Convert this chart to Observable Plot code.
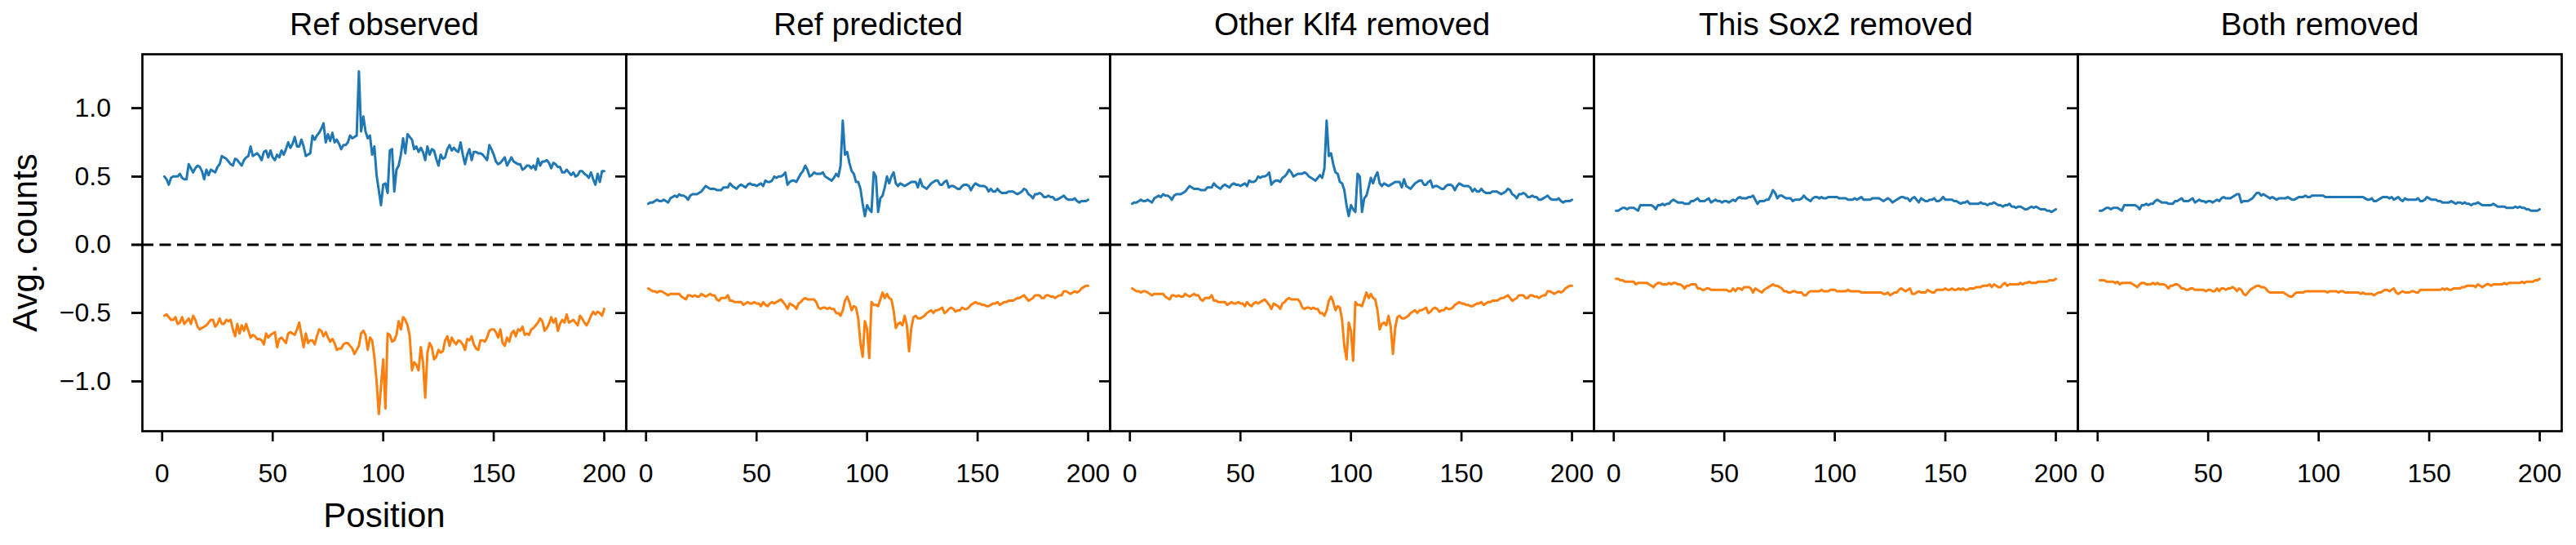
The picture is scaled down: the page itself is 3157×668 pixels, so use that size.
<!DOCTYPE html>
<html>
<head>
<meta charset="utf-8">
<script src="https://cdn.jsdelivr.net/npm/d3@7"></script>
<script src="https://cdn.jsdelivr.net/npm/@observablehq/plot@0.6"></script>
<style>
  html, body { margin: 0; padding: 0; background: #fff; overflow: hidden; }
  #chart svg { display: block; }
</style>
</head>
<body>
<div id="chart"></div>
<script>
const panels = ["Ref observed", "Ref predicted", "Other Klf4 removed", "This Sox2 removed", "Both removed"];
const strands = ["pos", "neg"];
const positions = d3.range(1, 201);
const xTicks = [0, 50, 100, 150, 200];
const yTicks = [-1.0, -0.5, 0.0, 0.5, 1.0];

const obsPos = [0.50,0.48,0.44,0.49,0.50,0.50,0.50,0.52,0.49,0.48,
 0.48,0.59,0.56,0.53,0.56,0.58,0.57,0.54,0.48,0.55,
 0.51,0.55,0.54,0.53,0.57,0.59,0.65,0.64,0.63,0.61,
 0.59,0.58,0.63,0.62,0.60,0.58,0.62,0.64,0.65,0.72,
 0.65,0.66,0.67,0.65,0.62,0.68,0.69,0.64,0.69,0.64,
 0.62,0.66,0.64,0.69,0.66,0.70,0.75,0.71,0.74,0.79,
 0.72,0.72,0.77,0.72,0.65,0.66,0.67,0.80,0.77,0.80,
 0.82,0.85,0.89,0.75,0.81,0.76,0.82,0.75,0.77,0.74,
 0.70,0.73,0.73,0.75,0.80,0.78,0.79,0.80,1.27,0.83,
 0.94,0.83,0.78,0.80,0.66,0.72,0.51,0.40,0.29,0.44,
 0.45,0.38,0.69,0.70,0.39,0.55,0.58,0.66,0.78,0.67,
 0.81,0.79,0.77,0.70,0.72,0.68,0.71,0.68,0.62,0.72,
 0.66,0.70,0.69,0.63,0.58,0.66,0.63,0.64,0.70,0.73,
 0.69,0.71,0.69,0.68,0.75,0.66,0.59,0.66,0.70,0.62,
 0.68,0.68,0.67,0.67,0.66,0.64,0.62,0.73,0.70,0.66,
 0.61,0.59,0.60,0.62,0.64,0.58,0.61,0.64,0.61,0.60,
 0.59,0.59,0.55,0.56,0.58,0.58,0.56,0.58,0.55,0.63,
 0.58,0.61,0.61,0.62,0.60,0.56,0.60,0.59,0.57,0.57,
 0.53,0.53,0.55,0.53,0.51,0.53,0.50,0.51,0.54,0.54,
 0.52,0.51,0.49,0.53,0.48,0.44,0.52,0.46,0.54,0.54];

const obsNeg = [-0.52,-0.51,-0.53,-0.55,-0.55,-0.53,-0.58,-0.57,-0.53,-0.58,
 -0.56,-0.54,-0.58,-0.52,-0.55,-0.60,-0.62,-0.61,-0.60,-0.59,
 -0.57,-0.55,-0.55,-0.60,-0.58,-0.54,-0.58,-0.58,-0.55,-0.56,
 -0.55,-0.62,-0.67,-0.58,-0.65,-0.59,-0.63,-0.58,-0.63,-0.68,
 -0.66,-0.67,-0.69,-0.69,-0.70,-0.73,-0.65,-0.68,-0.66,-0.65,
 -0.64,-0.75,-0.69,-0.68,-0.70,-0.72,-0.65,-0.64,-0.65,-0.66,
 -0.62,-0.57,-0.66,-0.75,-0.65,-0.72,-0.70,-0.70,-0.73,-0.67,
 -0.62,-0.63,-0.67,-0.64,-0.68,-0.71,-0.69,-0.72,-0.77,-0.76,
 -0.76,-0.73,-0.72,-0.72,-0.74,-0.76,-0.80,-0.77,-0.74,-0.65,
 -0.63,-0.66,-0.77,-0.68,-0.70,-0.82,-1.00,-1.24,-1.04,-0.84,
 -1.20,-0.65,-0.66,-0.71,-0.70,-0.66,-0.56,-0.62,-0.53,-0.55,
 -0.59,-0.67,-0.92,-0.86,-0.88,-0.92,-0.75,-0.86,-1.12,-0.79,
 -0.72,-0.75,-0.84,-0.82,-0.77,-0.79,-0.78,-0.70,-0.67,-0.74,
 -0.68,-0.71,-0.73,-0.70,-0.71,-0.73,-0.77,-0.69,-0.70,-0.67,
 -0.73,-0.76,-0.77,-0.70,-0.70,-0.71,-0.68,-0.63,-0.62,-0.62,
 -0.64,-0.68,-0.62,-0.72,-0.74,-0.68,-0.71,-0.65,-0.63,-0.67,
 -0.62,-0.63,-0.60,-0.66,-0.65,-0.66,-0.62,-0.61,-0.59,-0.57,
 -0.54,-0.56,-0.63,-0.61,-0.58,-0.53,-0.57,-0.54,-0.63,-0.58,
 -0.55,-0.57,-0.51,-0.57,-0.56,-0.55,-0.57,-0.59,-0.52,-0.54,
 -0.57,-0.59,-0.56,-0.52,-0.49,-0.51,-0.49,-0.50,-0.52,-0.47];

const predPos = [0.30,0.31,0.31,0.32,0.33,0.32,0.32,0.33,0.32,0.31,
 0.34,0.35,0.36,0.35,0.37,0.36,0.36,0.35,0.33,0.36,
 0.37,0.37,0.37,0.38,0.39,0.41,0.43,0.42,0.41,0.41,
 0.41,0.40,0.40,0.40,0.42,0.42,0.42,0.45,0.43,0.42,
 0.41,0.43,0.44,0.43,0.42,0.44,0.45,0.44,0.44,0.43,
 0.44,0.45,0.43,0.47,0.46,0.46,0.47,0.50,0.49,0.50,
 0.50,0.51,0.53,0.44,0.46,0.47,0.47,0.46,0.49,0.52,
 0.54,0.58,0.55,0.50,0.51,0.53,0.52,0.52,0.52,0.53,
 0.50,0.49,0.48,0.47,0.49,0.52,0.50,0.58,0.91,0.66,
 0.68,0.60,0.54,0.52,0.46,0.46,0.41,0.30,0.21,0.29,
 0.26,0.24,0.53,0.50,0.24,0.34,0.36,0.42,0.50,0.45,
 0.50,0.53,0.45,0.43,0.45,0.44,0.43,0.44,0.45,0.46,
 0.46,0.46,0.42,0.48,0.43,0.42,0.41,0.43,0.45,0.46,
 0.47,0.47,0.44,0.44,0.46,0.47,0.42,0.43,0.43,0.42,
 0.41,0.41,0.43,0.44,0.44,0.43,0.40,0.43,0.45,0.44,
 0.43,0.43,0.43,0.42,0.39,0.41,0.39,0.39,0.41,0.39,
 0.38,0.38,0.38,0.39,0.39,0.39,0.38,0.37,0.38,0.39,
 0.41,0.40,0.37,0.36,0.34,0.37,0.37,0.38,0.37,0.35,
 0.35,0.36,0.35,0.35,0.33,0.33,0.34,0.35,0.36,0.34,
 0.33,0.33,0.33,0.34,0.32,0.31,0.32,0.32,0.32,0.33];

const predNeg = [-0.32,-0.33,-0.34,-0.34,-0.35,-0.34,-0.34,-0.35,-0.36,-0.37,
 -0.36,-0.36,-0.36,-0.36,-0.36,-0.38,-0.39,-0.40,-0.37,-0.37,
 -0.38,-0.37,-0.38,-0.38,-0.36,-0.37,-0.38,-0.37,-0.36,-0.37,
 -0.37,-0.40,-0.41,-0.39,-0.39,-0.39,-0.37,-0.41,-0.41,-0.42,
 -0.42,-0.42,-0.42,-0.44,-0.43,-0.42,-0.43,-0.43,-0.42,-0.43,
 -0.43,-0.45,-0.42,-0.44,-0.45,-0.43,-0.42,-0.43,-0.42,-0.41,
 -0.40,-0.42,-0.44,-0.47,-0.43,-0.44,-0.45,-0.47,-0.43,-0.42,
 -0.40,-0.39,-0.40,-0.40,-0.40,-0.40,-0.42,-0.46,-0.47,-0.46,
 -0.46,-0.47,-0.46,-0.47,-0.47,-0.50,-0.50,-0.52,-0.48,-0.41,
 -0.38,-0.42,-0.48,-0.45,-0.46,-0.54,-0.72,-0.82,-0.56,-0.62,
 -0.83,-0.42,-0.44,-0.44,-0.45,-0.40,-0.35,-0.39,-0.36,-0.39,
 -0.40,-0.48,-0.61,-0.58,-0.57,-0.59,-0.52,-0.59,-0.78,-0.61,
 -0.53,-0.52,-0.54,-0.54,-0.53,-0.52,-0.50,-0.49,-0.48,-0.50,
 -0.48,-0.48,-0.47,-0.46,-0.50,-0.49,-0.47,-0.46,-0.47,-0.49,
 -0.48,-0.48,-0.46,-0.47,-0.47,-0.46,-0.44,-0.43,-0.42,-0.43,
 -0.43,-0.44,-0.44,-0.45,-0.45,-0.44,-0.43,-0.43,-0.42,-0.44,
 -0.43,-0.42,-0.42,-0.41,-0.41,-0.41,-0.40,-0.39,-0.39,-0.38,
 -0.37,-0.39,-0.41,-0.40,-0.39,-0.37,-0.37,-0.37,-0.39,-0.39,
 -0.37,-0.37,-0.38,-0.38,-0.39,-0.38,-0.37,-0.37,-0.34,-0.34,
 -0.35,-0.36,-0.35,-0.34,-0.35,-0.34,-0.32,-0.31,-0.30,-0.30];

const klf4Pos = [0.30,0.31,0.31,0.32,0.33,0.32,0.32,0.33,0.32,0.31,
 0.34,0.35,0.36,0.35,0.37,0.36,0.36,0.35,0.33,0.36,
 0.37,0.37,0.37,0.38,0.39,0.41,0.43,0.42,0.41,0.41,
 0.41,0.40,0.40,0.40,0.42,0.42,0.42,0.45,0.43,0.42,
 0.41,0.43,0.44,0.43,0.42,0.44,0.45,0.44,0.44,0.43,
 0.44,0.45,0.43,0.47,0.46,0.46,0.47,0.50,0.49,0.50,
 0.50,0.51,0.53,0.44,0.46,0.47,0.47,0.46,0.49,0.50,
 0.52,0.55,0.53,0.50,0.51,0.52,0.52,0.52,0.53,0.52,
 0.50,0.49,0.48,0.47,0.49,0.51,0.49,0.56,0.91,0.65,
 0.67,0.59,0.53,0.52,0.46,0.45,0.40,0.29,0.21,0.29,
 0.26,0.24,0.52,0.50,0.24,0.34,0.36,0.42,0.49,0.45,
 0.50,0.53,0.45,0.43,0.45,0.44,0.43,0.44,0.45,0.46,
 0.46,0.46,0.42,0.48,0.43,0.42,0.41,0.43,0.45,0.46,
 0.47,0.47,0.44,0.44,0.46,0.47,0.42,0.43,0.43,0.42,
 0.41,0.41,0.43,0.44,0.44,0.43,0.40,0.43,0.45,0.44,
 0.43,0.43,0.43,0.42,0.39,0.41,0.39,0.39,0.41,0.39,
 0.38,0.38,0.38,0.39,0.39,0.39,0.38,0.37,0.38,0.39,
 0.41,0.40,0.37,0.36,0.34,0.37,0.37,0.38,0.37,0.35,
 0.35,0.36,0.35,0.35,0.33,0.33,0.34,0.35,0.36,0.34,
 0.33,0.33,0.33,0.34,0.32,0.31,0.32,0.32,0.32,0.33];

const klf4Neg = [-0.32,-0.33,-0.34,-0.34,-0.35,-0.34,-0.34,-0.35,-0.36,-0.37,
 -0.36,-0.36,-0.36,-0.36,-0.36,-0.38,-0.39,-0.40,-0.37,-0.37,
 -0.38,-0.37,-0.38,-0.38,-0.36,-0.37,-0.38,-0.37,-0.36,-0.37,
 -0.37,-0.40,-0.41,-0.39,-0.39,-0.39,-0.37,-0.41,-0.41,-0.42,
 -0.42,-0.42,-0.42,-0.44,-0.43,-0.42,-0.43,-0.43,-0.42,-0.43,
 -0.43,-0.45,-0.42,-0.44,-0.45,-0.43,-0.42,-0.43,-0.42,-0.41,
 -0.40,-0.42,-0.44,-0.47,-0.43,-0.44,-0.45,-0.47,-0.43,-0.42,
 -0.40,-0.39,-0.40,-0.40,-0.40,-0.40,-0.42,-0.46,-0.47,-0.46,
 -0.46,-0.47,-0.46,-0.47,-0.47,-0.50,-0.50,-0.52,-0.48,-0.41,
 -0.38,-0.42,-0.48,-0.45,-0.46,-0.55,-0.74,-0.84,-0.57,-0.63,
 -0.85,-0.42,-0.44,-0.44,-0.45,-0.40,-0.35,-0.39,-0.36,-0.39,
 -0.40,-0.48,-0.62,-0.58,-0.57,-0.59,-0.52,-0.60,-0.80,-0.61,
 -0.53,-0.52,-0.54,-0.54,-0.53,-0.52,-0.50,-0.49,-0.48,-0.50,
 -0.48,-0.48,-0.47,-0.46,-0.50,-0.49,-0.47,-0.46,-0.47,-0.49,
 -0.48,-0.48,-0.46,-0.47,-0.47,-0.46,-0.44,-0.43,-0.42,-0.43,
 -0.43,-0.44,-0.44,-0.45,-0.45,-0.44,-0.43,-0.43,-0.42,-0.44,
 -0.43,-0.42,-0.42,-0.41,-0.41,-0.41,-0.40,-0.39,-0.39,-0.38,
 -0.37,-0.39,-0.41,-0.40,-0.39,-0.37,-0.37,-0.37,-0.39,-0.39,
 -0.37,-0.37,-0.38,-0.38,-0.39,-0.38,-0.37,-0.37,-0.34,-0.34,
 -0.35,-0.36,-0.35,-0.34,-0.35,-0.34,-0.32,-0.31,-0.30,-0.30];

const sox2Pos = [0.25,0.25,0.26,0.27,0.27,0.26,0.27,0.27,0.27,0.26,
 0.25,0.29,0.29,0.29,0.29,0.29,0.29,0.28,0.26,0.29,
 0.29,0.30,0.29,0.30,0.30,0.32,0.33,0.32,0.31,0.31,
 0.31,0.30,0.30,0.30,0.32,0.32,0.33,0.34,0.32,0.32,
 0.32,0.33,0.34,0.31,0.32,0.33,0.32,0.32,0.31,0.32,
 0.32,0.31,0.32,0.33,0.32,0.34,0.35,0.34,0.34,0.34,
 0.35,0.35,0.36,0.33,0.30,0.32,0.32,0.32,0.33,0.33,
 0.36,0.40,0.38,0.34,0.36,0.36,0.35,0.34,0.34,0.34,
 0.32,0.33,0.33,0.33,0.34,0.36,0.34,0.33,0.32,0.34,
 0.35,0.35,0.34,0.35,0.34,0.34,0.35,0.35,0.35,0.35,
 0.35,0.34,0.34,0.34,0.34,0.33,0.33,0.33,0.34,0.33,
 0.34,0.35,0.33,0.33,0.33,0.33,0.34,0.34,0.34,0.34,
 0.33,0.32,0.33,0.34,0.33,0.31,0.32,0.33,0.34,0.35,
 0.35,0.34,0.34,0.32,0.34,0.35,0.33,0.31,0.34,0.33,
 0.32,0.32,0.33,0.33,0.34,0.32,0.32,0.33,0.35,0.33,
 0.33,0.33,0.33,0.32,0.32,0.31,0.30,0.31,0.31,0.32,
 0.30,0.30,0.30,0.30,0.30,0.31,0.30,0.30,0.29,0.30,
 0.30,0.31,0.30,0.29,0.29,0.28,0.29,0.29,0.30,0.28,
 0.28,0.27,0.28,0.28,0.27,0.26,0.26,0.27,0.28,0.27,
 0.28,0.27,0.26,0.26,0.26,0.25,0.25,0.24,0.25,0.26];

const sox2Neg = [-0.25,-0.25,-0.26,-0.26,-0.27,-0.27,-0.27,-0.27,-0.27,-0.29,
 -0.28,-0.28,-0.28,-0.28,-0.28,-0.29,-0.30,-0.31,-0.29,-0.28,
 -0.28,-0.29,-0.29,-0.29,-0.28,-0.29,-0.28,-0.28,-0.29,-0.29,
 -0.30,-0.32,-0.30,-0.30,-0.29,-0.29,-0.29,-0.32,-0.32,-0.33,
 -0.33,-0.32,-0.32,-0.33,-0.33,-0.33,-0.33,-0.33,-0.33,-0.33,
 -0.33,-0.34,-0.34,-0.32,-0.34,-0.32,-0.32,-0.33,-0.31,-0.31,
 -0.31,-0.32,-0.35,-0.32,-0.33,-0.34,-0.35,-0.33,-0.32,-0.31,
 -0.30,-0.29,-0.30,-0.30,-0.31,-0.32,-0.34,-0.34,-0.35,-0.35,
 -0.34,-0.34,-0.35,-0.35,-0.35,-0.37,-0.37,-0.35,-0.34,-0.34,
 -0.34,-0.34,-0.34,-0.33,-0.34,-0.34,-0.34,-0.33,-0.33,-0.33,
 -0.34,-0.34,-0.34,-0.34,-0.34,-0.33,-0.34,-0.34,-0.34,-0.34,
 -0.34,-0.35,-0.35,-0.35,-0.35,-0.35,-0.35,-0.35,-0.35,-0.35,
 -0.35,-0.36,-0.36,-0.35,-0.37,-0.36,-0.35,-0.35,-0.33,-0.32,
 -0.33,-0.34,-0.33,-0.32,-0.36,-0.36,-0.35,-0.34,-0.35,-0.35,
 -0.35,-0.33,-0.34,-0.35,-0.35,-0.33,-0.33,-0.33,-0.33,-0.32,
 -0.33,-0.33,-0.32,-0.33,-0.33,-0.32,-0.33,-0.32,-0.33,-0.33,
 -0.32,-0.32,-0.32,-0.31,-0.31,-0.31,-0.30,-0.30,-0.30,-0.29,
 -0.31,-0.29,-0.30,-0.31,-0.31,-0.29,-0.28,-0.30,-0.29,-0.29,
 -0.29,-0.29,-0.29,-0.28,-0.29,-0.28,-0.28,-0.27,-0.28,-0.28,
 -0.28,-0.27,-0.27,-0.27,-0.27,-0.27,-0.26,-0.26,-0.26,-0.25];

const bothPos = [0.25,0.25,0.26,0.27,0.27,0.26,0.27,0.27,0.27,0.26,
 0.25,0.29,0.29,0.29,0.29,0.29,0.29,0.28,0.26,0.29,
 0.29,0.30,0.29,0.30,0.30,0.32,0.33,0.32,0.31,0.31,
 0.31,0.30,0.30,0.30,0.32,0.32,0.33,0.34,0.32,0.32,
 0.32,0.33,0.34,0.31,0.32,0.33,0.32,0.32,0.31,0.32,
 0.32,0.31,0.32,0.33,0.32,0.34,0.35,0.34,0.34,0.34,
 0.35,0.36,0.37,0.37,0.31,0.32,0.32,0.32,0.33,0.34,
 0.36,0.38,0.38,0.36,0.37,0.36,0.35,0.34,0.35,0.34,
 0.33,0.34,0.34,0.34,0.34,0.35,0.34,0.33,0.33,0.34,
 0.35,0.35,0.35,0.36,0.35,0.35,0.36,0.36,0.36,0.36,
 0.36,0.36,0.35,0.35,0.35,0.35,0.35,0.35,0.35,0.35,
 0.35,0.35,0.35,0.35,0.35,0.35,0.35,0.35,0.35,0.35,
 0.34,0.33,0.33,0.34,0.32,0.32,0.33,0.34,0.35,0.35,
 0.35,0.34,0.35,0.33,0.34,0.35,0.33,0.32,0.34,0.33,
 0.33,0.33,0.33,0.33,0.34,0.32,0.32,0.33,0.35,0.34,
 0.33,0.33,0.33,0.32,0.32,0.31,0.31,0.31,0.31,0.32,
 0.31,0.30,0.31,0.31,0.30,0.31,0.30,0.30,0.29,0.30,
 0.30,0.31,0.30,0.29,0.29,0.29,0.29,0.29,0.30,0.29,
 0.28,0.28,0.28,0.28,0.27,0.27,0.27,0.27,0.28,0.27,
 0.28,0.27,0.27,0.26,0.26,0.25,0.25,0.25,0.25,0.26];

const bothNeg = [-0.26,-0.26,-0.26,-0.27,-0.27,-0.27,-0.27,-0.28,-0.27,-0.29,
 -0.28,-0.28,-0.28,-0.28,-0.28,-0.29,-0.30,-0.31,-0.29,-0.28,
 -0.28,-0.29,-0.29,-0.29,-0.28,-0.29,-0.28,-0.29,-0.29,-0.29,
 -0.30,-0.32,-0.30,-0.30,-0.29,-0.29,-0.30,-0.32,-0.32,-0.33,
 -0.33,-0.32,-0.32,-0.33,-0.33,-0.33,-0.33,-0.33,-0.34,-0.33,
 -0.33,-0.34,-0.34,-0.32,-0.34,-0.32,-0.32,-0.33,-0.32,-0.32,
 -0.31,-0.32,-0.34,-0.32,-0.33,-0.36,-0.37,-0.35,-0.33,-0.32,
 -0.31,-0.30,-0.30,-0.31,-0.31,-0.32,-0.34,-0.35,-0.35,-0.35,
 -0.35,-0.35,-0.35,-0.35,-0.36,-0.37,-0.38,-0.38,-0.36,-0.35,
 -0.35,-0.35,-0.35,-0.34,-0.34,-0.34,-0.34,-0.34,-0.34,-0.34,
 -0.34,-0.34,-0.34,-0.35,-0.34,-0.34,-0.34,-0.34,-0.35,-0.34,
 -0.34,-0.35,-0.35,-0.35,-0.35,-0.35,-0.35,-0.35,-0.36,-0.35,
 -0.36,-0.36,-0.36,-0.36,-0.37,-0.36,-0.35,-0.35,-0.34,-0.33,
 -0.33,-0.34,-0.33,-0.32,-0.35,-0.36,-0.35,-0.34,-0.35,-0.35,
 -0.35,-0.34,-0.34,-0.35,-0.35,-0.33,-0.33,-0.33,-0.33,-0.33,
 -0.33,-0.33,-0.33,-0.33,-0.33,-0.32,-0.33,-0.32,-0.33,-0.33,
 -0.32,-0.32,-0.32,-0.32,-0.31,-0.31,-0.30,-0.30,-0.30,-0.30,
 -0.31,-0.29,-0.30,-0.31,-0.30,-0.29,-0.29,-0.30,-0.29,-0.29,
 -0.29,-0.29,-0.29,-0.28,-0.29,-0.28,-0.28,-0.28,-0.28,-0.28,
 -0.28,-0.27,-0.28,-0.27,-0.27,-0.27,-0.27,-0.26,-0.26,-0.25];

const seriesByPanel = [
  [panels[0], obsPos, obsNeg],
  [panels[1], predPos, predNeg],
  [panels[2], klf4Pos, klf4Neg],
  [panels[3], sox2Pos, sox2Neg],
  [panels[4], bothPos, bothNeg]
];

const rows = [];
for (const [panel, posVals, negVals] of seriesByPanel) {
  positions.forEach((p, i) => rows.push({panel, strand: "pos", position: p, value: posVals[i]}));
  positions.forEach((p, i) => rows.push({panel, strand: "neg", position: p, value: negVals[i]}));
}

const fmt = d3.format(".1f");
const lw = 2.7;

const chart = Plot.plot({
  width: 3157,
  height: 668,
  marginLeft: 174,
  marginRight: 18,
  marginTop: 66,
  marginBottom: 140,
  style: {fontFamily: "'Liberation Sans', Arial, sans-serif", color: "black", background: "white"},
  fx: {domain: panels, paddingInner: 0, paddingOuter: 0, round: false, axis: null, label: null},
  x: {domain: [-8.95, 209.95], axis: null, label: null},
  y: {domain: [-1.3655, 1.3955], axis: null, label: null},
  color: {domain: strands, range: ["#1f77b4", "#ff7f0e"]},
  marks: [
    Plot.ruleY([0], {stroke: "black", strokeWidth: 3, strokeDasharray: "14,7.5"}),
    Plot.lineY(rows, {fx: "panel", x: "position", y: "value", z: "strand", stroke: "strand", strokeWidth: 3}),
    Plot.frame({stroke: "black", strokeWidth: lw}),
    Plot.axisX(xTicks, {tickSize: 13, tickPadding: 26.5, fontSize: 32, strokeWidth: lw, label: null, facetAnchor: null}),
    Plot.axisY(yTicks, {tickSize: 13, tickFormat: () => "", strokeWidth: lw, label: null, facetAnchor: null}),
    Plot.axisY(yTicks, {tickSize: 13, tickPadding: 25.5, fontSize: 32, tickFormat: fmt, strokeWidth: lw, label: null}),
    Plot.text(panels, {fx: d => d, text: d => d, frameAnchor: "top", lineAnchor: "middle", textAnchor: "middle", dy: -36, fontSize: 39}),
    Plot.text(["Position"], {fx: () => panels[0], text: d => d, frameAnchor: "bottom", lineAnchor: "middle", textAnchor: "middle", dy: 104, fontSize: 42}),
    Plot.text(["Avg. counts"], {fx: () => panels[0], text: d => d, frameAnchor: "left", lineAnchor: "middle", textAnchor: "middle", dx: -143, rotate: -90, fontSize: 42})
  ]
});

document.getElementById("chart").appendChild(chart);
</script>
</body>
</html>
